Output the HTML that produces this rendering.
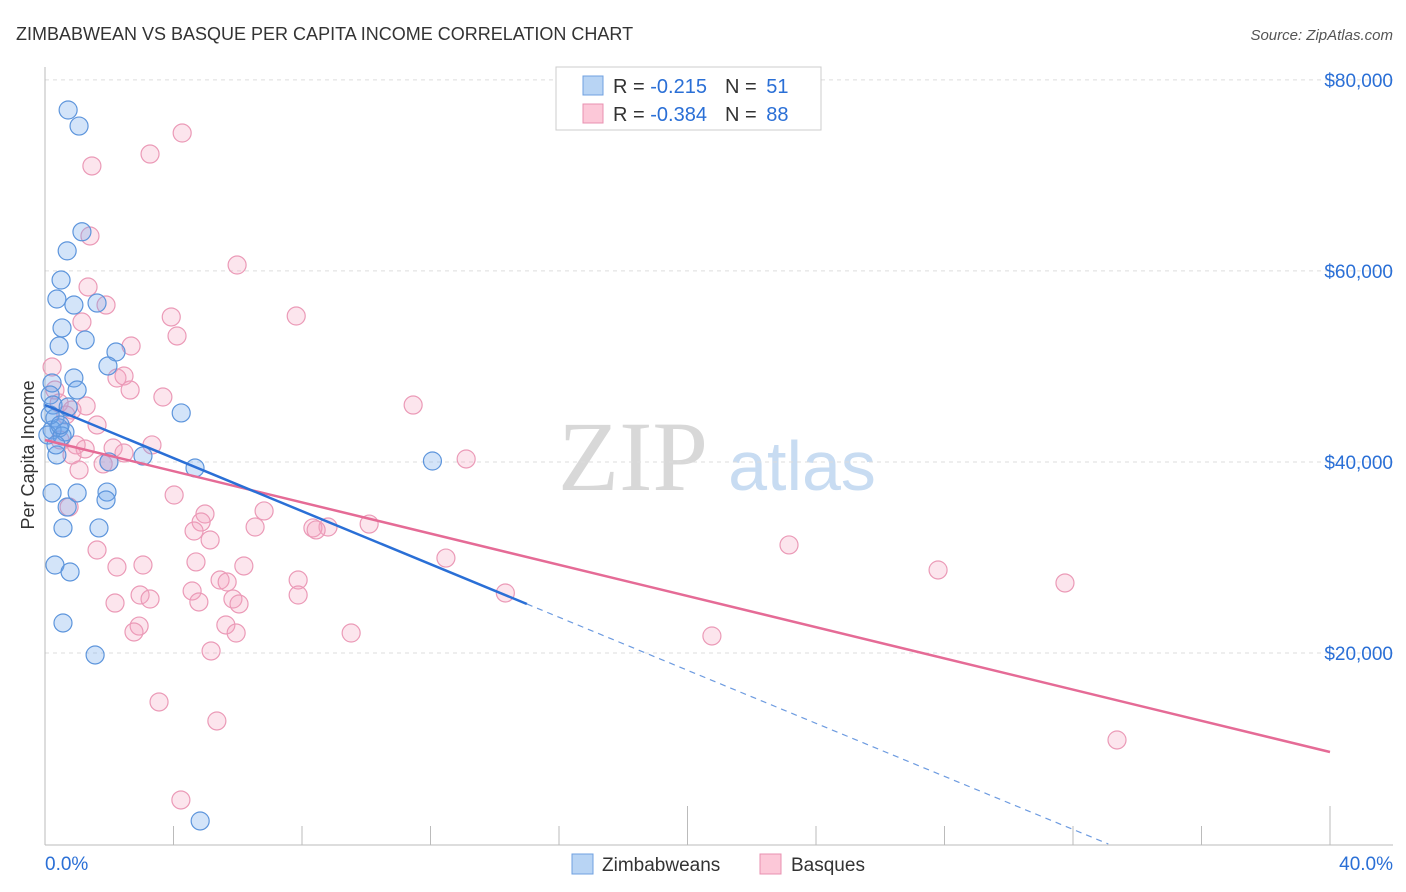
<!DOCTYPE html>
<html><head><meta charset="utf-8"><style>
body{margin:0;background:#fff;font-family:"Liberation Sans",sans-serif}
svg{display:block}
</style></head><body>
<svg id="chart" width="1406" height="892" font-family="Liberation Sans, sans-serif">
<text x="16" y="40" font-size="18" fill="#333">ZIMBABWEAN VS BASQUE PER CAPITA INCOME CORRELATION CHART</text>
<text x="1393" y="40" font-size="15" fill="#555" font-style="italic" text-anchor="end">Source: ZipAtlas.com</text>
<text transform="translate(34,455) rotate(-90)" font-size="18" fill="#333" text-anchor="middle">Per Capita Income</text>
<g>
<text x="633" y="490" font-size="100" font-family="Liberation Serif, serif" fill="#d8d8d8" text-anchor="middle">ZIP</text>
<text x="802" y="490" font-size="70" fill="#c8dcf2" text-anchor="middle">atlas</text>
</g>
<g id="grid"></g>
<g id="axes"></g>
<g id="pts"></g>
<g id="trends"></g>
<g>
<rect x="556" y="67" width="265" height="63" fill="#fff" stroke="#ccc"/>
<rect x="583" y="76" width="20" height="19" fill="#b8d4f4" stroke="#6fa0e0"/>
<rect x="583" y="104" width="20" height="19" fill="#fcc8d8" stroke="#e890b0"/>
<text x="613" y="93" font-size="20" fill="#333">R = <tspan fill="#2a6fd6">-0.215</tspan><tspan dx="18">N = </tspan><tspan fill="#2a6fd6" dx="4">51</tspan></text>
<text x="613" y="121" font-size="20" fill="#333">R = <tspan fill="#2a6fd6">-0.384</tspan><tspan dx="18">N = </tspan><tspan fill="#2a6fd6" dx="4">88</tspan></text>
</g>
<g>
<rect x="572" y="854" width="21" height="20" fill="#b8d4f4" stroke="#6fa0e0"/>
<text x="602" y="871" font-size="19" fill="#333">Zimbabweans</text>
<rect x="760" y="854" width="21" height="20" fill="#fcc8d8" stroke="#e890b0"/>
<text x="791" y="871" font-size="19" fill="#333">Basques</text>
</g>
<text x="45" y="870" font-size="19" fill="#2a6fd6">0.0%</text>
<text x="1393" y="870" font-size="19" fill="#2a6fd6" text-anchor="end">40.0%</text>
</svg>
<script>
const yTicks=[20000,40000,60000,80000];
const yTickLabels=["$20,000","$40,000","$60,000","$80,000"];
const xTicks=[0,4,8,12,16,20,24,28,32,36,40];
const zimX=[0.72,1.06,1.15,0.69,0.50,0.37,0.90,1.62,0.53,1.25,0.44,2.21,1.96,0.90,0.22,1.00,0.16,0.25,0.72,4.24,0.31,0.44,0.62,0.22,0.09,0.53,4.67,3.05,0.37,12.06,1.99,0.22,1.00,1.93,1.90,0.69,0.56,1.68,0.31,0.78,0.56,1.56,4.83,0.16,0.47,0.34];
const zimY=[76850,75170,64100,62100,59050,57060,56430,56640,54030,52770,52140,51510,50050,48790,48270,47530,47010,45960,45750,45130,44600,43560,43140,43350,42820,42720,39370,40620,40730,40100,40000,36750,36750,36850,36020,35280,33090,33090,29210,28480,23140,19790,2410,44920,43870,41780];
const basX=[4.27,3.27,1.46,1.40,5.98,1.34,1.90,7.82,1.15,3.93,4.11,2.68,0.22,2.24,2.46,0.31,2.65,3.67,0.44,11.46,1.28,0.84,0.65,1.62,0.47,3.33,0.97,2.12,1.25,2.46,0.84,13.11,1.81,1.99,1.06,4.02,4.98,6.82,0.75,4.86,4.64,6.54,8.81,8.34,8.44,5.14,10.09,1.62,12.48,23.16,2.24,3.05,4.70,6.19,27.80,31.75,5.45,5.67,7.88,4.58,2.96,3.27,7.88,2.18,4.79,5.85,6.04,14.33,2.93,5.63,2.77,5.95,9.53,20.76,5.17,3.55,5.35,33.37,4.23];
const basY=[74440,72240,70990,63660,60620,58320,56430,55280,54650,55180,53190,52140,49940,48790,49000,47530,47530,46800,46170,45960,45860,45440,44920,43870,42300,41780,41780,41460,41360,40940,40730,40310,39790,40000,39160,36540,34550,34870,35280,33710,32770,33190,33190,33090,32880,31830,33500,30780,29940,31310,29000,29210,29530,29110,28690,27330,27640,27430,27640,26490,26070,25650,26070,25230,25340,25650,25130,26280,22820,22930,22200,22090,22090,21780,20210,14870,12880,10890,4610];
const zimTrend=[[0,45960],[15,25130]];
const zimTrendExt=[[15,25130],[33.1,0]];
const basTrend=[[0,42300],[40,9630]];
const NS="http://www.w3.org/2000/svg";
const X=v=>45+v*32.125, Y=v=>844-v/104.7;
function mk(tag,attrs,parent){const e=document.createElementNS(NS,tag);for(const k in attrs)e.setAttribute(k,attrs[k]);parent.appendChild(e);return e;}
const grid=document.getElementById('grid'),axes=document.getElementById('axes'),pts=document.getElementById('pts'),tr=document.getElementById('trends');
yTicks.forEach((t,i)=>{
 const l=mk('line',{x1:45,x2:1393,y1:Y(t),y2:Y(t),stroke:'#ddd','stroke-dasharray':'4,4'},grid);
 
 
 const tx=mk('text',{x:1393,y:Y(t)+7,'font-size':19,fill:'#2a6fd6','text-anchor':'end'},grid);
 tx.textContent=yTickLabels[i];
 
 
});
const al=mk('line',{x1:45,x2:45,y1:67,y2:845,stroke:'#bbb'},axes);


const bl=mk('line',{x1:45,x2:1393,y1:845,y2:845,stroke:'#bbb'},axes);


xTicks.forEach(t=>{
 const major=(t%20===0);
 const l=mk('line',{x1:X(t),x2:X(t),y1:major?806:826,y2:845,stroke:'#bbb'},axes);
 
 
});
function dots(xs,ys,fill,stroke,name){xs.forEach((x,i)=>{
 const c=mk('circle',{cx:X(x),cy:Y(ys[i]),r:9,fill:fill,stroke:stroke,'stroke-width':1.2},pts);
 
 
});}
dots(basX,basY,'rgba(245,160,190,0.28)','#eb9ab7','basque-point');
dots(zimX,zimY,'rgba(110,165,235,0.3)','#5d95dc','zimbabwean-point');
function line(p,stroke,w,dash,name){const l=mk('line',{x1:X(p[0][0]),y1:Y(p[0][1]),x2:X(p[1][0]),y2:Y(p[1][1]),stroke:stroke,'stroke-width':w},tr);
 if(dash)l.setAttribute('stroke-dasharray',dash);
 
 }
line(basTrend,'#e56b96',2.5,null,'basque-trend-line');
line(zimTrend,'#2a6fd6',2.5,null,'zimbabwean-trend-line');
line(zimTrendExt,'#6d9be0',1.2,'6,5','zimbabwean-trend-extension');
</script>
</body></html>
